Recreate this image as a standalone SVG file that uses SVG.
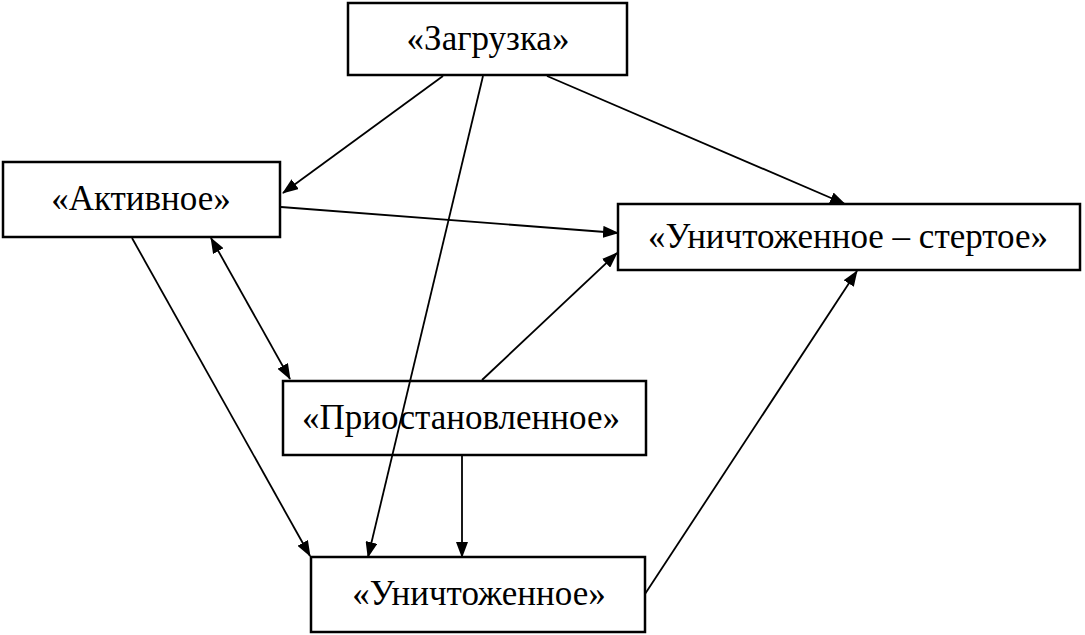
<svg xmlns="http://www.w3.org/2000/svg" width="1085" height="635" viewBox="0 0 1085 635">
<defs>
<style>
.box{fill:#fff;stroke:#000;stroke-width:2.5}
.lbl{font-family:"Liberation Serif","Times New Roman",serif;font-size:35px;fill:#000;text-anchor:middle}
.con{stroke:#000;stroke-width:1.8;fill:none}
</style>
<marker id="ah" markerWidth="16" markerHeight="12" refX="15" refY="6" orient="auto" markerUnits="userSpaceOnUse">
<path d="M0,0 L16,6 L0,12 Z" fill="#000"/>
</marker>
<marker id="as" markerWidth="16" markerHeight="12" refX="1" refY="6" orient="auto" markerUnits="userSpaceOnUse">
<path d="M16,0 L0,6 L16,12 Z" fill="#000"/>
</marker>
</defs>
<rect width="1085" height="635" fill="#fff"/>
<g id="node-zagruzka">
<rect class="box" x="348" y="3" width="279" height="72"/>
<text class="lbl" x="488" y="50">«Загрузка»</text>
</g>
<g id="node-aktivnoe">
<rect class="box" x="3" y="162" width="277" height="75"/>
<text class="lbl" x="141" y="210">«Активное»</text>
</g>
<g id="node-unichtozhennoe-stertoe">
<rect class="box" x="618" y="204" width="462" height="66"/>
<text class="lbl" x="848" y="248">«Уничтоженное – стертое»</text>
</g>
<g id="node-priostanovlennoe">
<rect class="box" x="283" y="381" width="363" height="74"/>
<text class="lbl" x="461" y="429">«Приостановленное»</text>
</g>
<g id="node-unichtozhennoe">
<rect class="box" x="311" y="557" width="334" height="75"/>
<text class="lbl" x="479" y="605">«Уничтоженное»</text>
</g>
<g id="connectors">
<line class="con" x1="443" y1="76" x2="283" y2="193" marker-end="url(#ah)"/>
<line class="con" x1="483" y1="76" x2="368" y2="557" marker-end="url(#ah)"/>
<line class="con" x1="547" y1="76" x2="845" y2="204" marker-end="url(#ah)"/>
<line class="con" x1="281" y1="207" x2="618" y2="233" marker-end="url(#ah)"/>
<line class="con" x1="211" y1="238" x2="290" y2="379" marker-start="url(#as)" marker-end="url(#ah)"/>
<line class="con" x1="132" y1="238" x2="310" y2="556" marker-end="url(#ah)"/>
<line class="con" x1="482" y1="380" x2="617" y2="253" marker-end="url(#ah)"/>
<line class="con" x1="462" y1="456" x2="462" y2="557" marker-end="url(#ah)"/>
<line class="con" x1="645" y1="594" x2="857" y2="271" marker-end="url(#ah)"/>
</g>
</svg>
